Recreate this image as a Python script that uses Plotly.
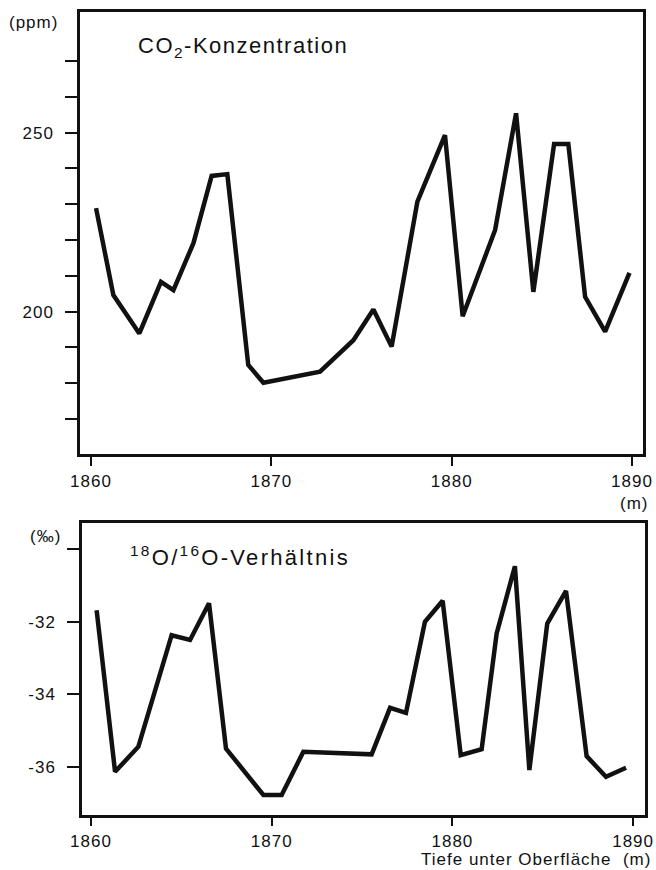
import plotly.graph_objects as go

# --- data ---
co2_depth = [1860.28, 1861.24, 1862.68, 1863.88, 1864.57, 1865.68, 1866.69, 1867.56,
             1868.72, 1869.56, 1872.70, 1874.55, 1875.66, 1876.67, 1878.10, 1879.63,
             1880.61, 1882.41, 1883.57, 1884.53, 1885.68, 1886.47, 1887.40, 1888.51, 1889.86]
co2_ppm = [228.9, 204.6, 193.9, 208.3, 206.0, 219.1, 237.9, 238.4,
           185.1, 180.1, 183.2, 192.0, 200.6, 190.2, 230.7, 249.3,
           198.7, 222.8, 255.4, 205.5, 246.8, 246.8, 204.1, 194.4, 210.8]

o18_depth = [1860.31, 1861.33, 1862.62, 1864.46, 1865.48, 1866.53, 1867.47, 1869.54,
             1870.55, 1871.75, 1875.53, 1876.55, 1877.43, 1878.48, 1879.46, 1880.46,
             1881.62, 1882.45, 1883.46, 1884.26, 1885.25, 1886.29, 1887.43, 1888.50, 1889.61]
o18_permil = [-31.68, -36.13, -35.44, -32.37, -32.50, -31.49, -35.49, -36.77,
              -36.77, -35.58, -35.65, -34.37, -34.51, -32.00, -31.42, -35.67,
              -35.51, -32.32, -30.47, -36.08, -32.05, -31.15, -35.70, -36.27, -36.02]

x_ticks = [1860, 1870, 1880, 1890]
x_ticklabels = ["1860", "1870", "1880", "1890"]
co2_ticks = [200, 250]
co2_ticklabels = ["200", "250"]
co2_minor_ticks = [170, 180, 190, 210, 220, 230, 240, 260, 270]
o18_ticks = [-36, -34, -32]
o18_ticklabels = ["-36", "-34", "-32"]
o18_minor_ticks = [-30]

W, H = 656, 870
FONT = "Liberation Sans, Arial, Helvetica, sans-serif"
INK = "#111111"


def px(x):
    return x / W


def py(y):
    return 1 - y / H


def spaced(s, ls=1):
    return '<span style="letter-spacing:%spx">%s</span>' % (ls, s)


fig = go.Figure()
fig.add_trace(go.Scatter(x=co2_depth, y=co2_ppm, mode="lines",
                         line=dict(color=INK, width=4.5), xaxis="x", yaxis="y",
                         showlegend=False, hoverinfo="skip"))
fig.add_trace(go.Scatter(x=o18_depth, y=o18_permil, mode="lines",
                         line=dict(color=INK, width=4.5), xaxis="x2", yaxis="y2",
                         showlegend=False, hoverinfo="skip"))

axis_common = dict(showline=True, linecolor=INK, linewidth=2.5, mirror=True,
                   ticks="outside", tickcolor=INK, tickwidth=2, showgrid=False,
                   zeroline=False, automargin=False,
                   tickfont=dict(family=FONT, size=17, color=INK))


def minor(vals):
    return dict(tickmode="array", tickvals=vals, ticks="outside", ticklen=12,
                tickwidth=2, tickcolor=INK, showgrid=False)


xt = [spaced(t) for t in x_ticklabels]
fig.update_layout(
    width=W, height=H,
    autosize=False,
    margin=dict(l=0, r=0, t=0, b=0, pad=0, autoexpand=False),
    paper_bgcolor="white", plot_bgcolor="white",
    font=dict(family=FONT, color=INK),
    xaxis=dict(domain=[px(80), px(643)], range=[1859.39, 1890.61], anchor="y",
               tickmode="array", tickvals=x_ticks, ticktext=xt,
               ticklen=9, ticklabelstandoff=1, **axis_common),
    yaxis=dict(domain=[py(454), py(12)], range=[160.2, 283.7], anchor="x",
               tickmode="array", tickvals=co2_ticks,
               ticktext=[spaced(t) for t in co2_ticklabels],
               minor=minor(co2_minor_ticks),
               ticklen=12, ticklabelstandoff=8, **axis_common),
    xaxis2=dict(domain=[px(82), px(645)], range=[1859.5, 1890.66], anchor="y2",
                tickmode="array", tickvals=x_ticks, ticktext=xt,
                ticklen=8, ticklabelstandoff=1, **axis_common),
    yaxis2=dict(domain=[py(815), py(523)], range=[-37.32, -29.28], anchor="x2",
                tickmode="array", tickvals=o18_ticks,
                ticktext=[spaced(t) for t in o18_ticklabels],
                minor=minor(o18_minor_ticks),
                ticklen=12, ticklabelstandoff=8, **axis_common),
)


def note(text, x, y, size, xanchor="left", pad=1):
    fig.add_annotation(text=text, x=px(x), y=py(y), xref="paper", yref="paper",
                       xanchor=xanchor, yanchor="middle", showarrow=False,
                       borderpad=pad,
                       font=dict(family=FONT, color=INK, size=size))


note(spaced("(ppm)"), 7, 22, 17)
note(spaced("CO<sub>2</sub>-Konzentration", 1.5), 136, 47, 22)
note(spaced("(m)"), 650, 503, 17, xanchor="right")
note(spaced("(‰)"), 28, 536, 17)
note(spaced("<sup>18</sup>O/<sup>16</sup>O-Verhältnis", 2.3), 128, 556, 22)
note(spaced("Tiefe unter Oberfläche  (m)"), 652, 859, 17, xanchor="right", pad=0)

fig.write_html("out.html")
